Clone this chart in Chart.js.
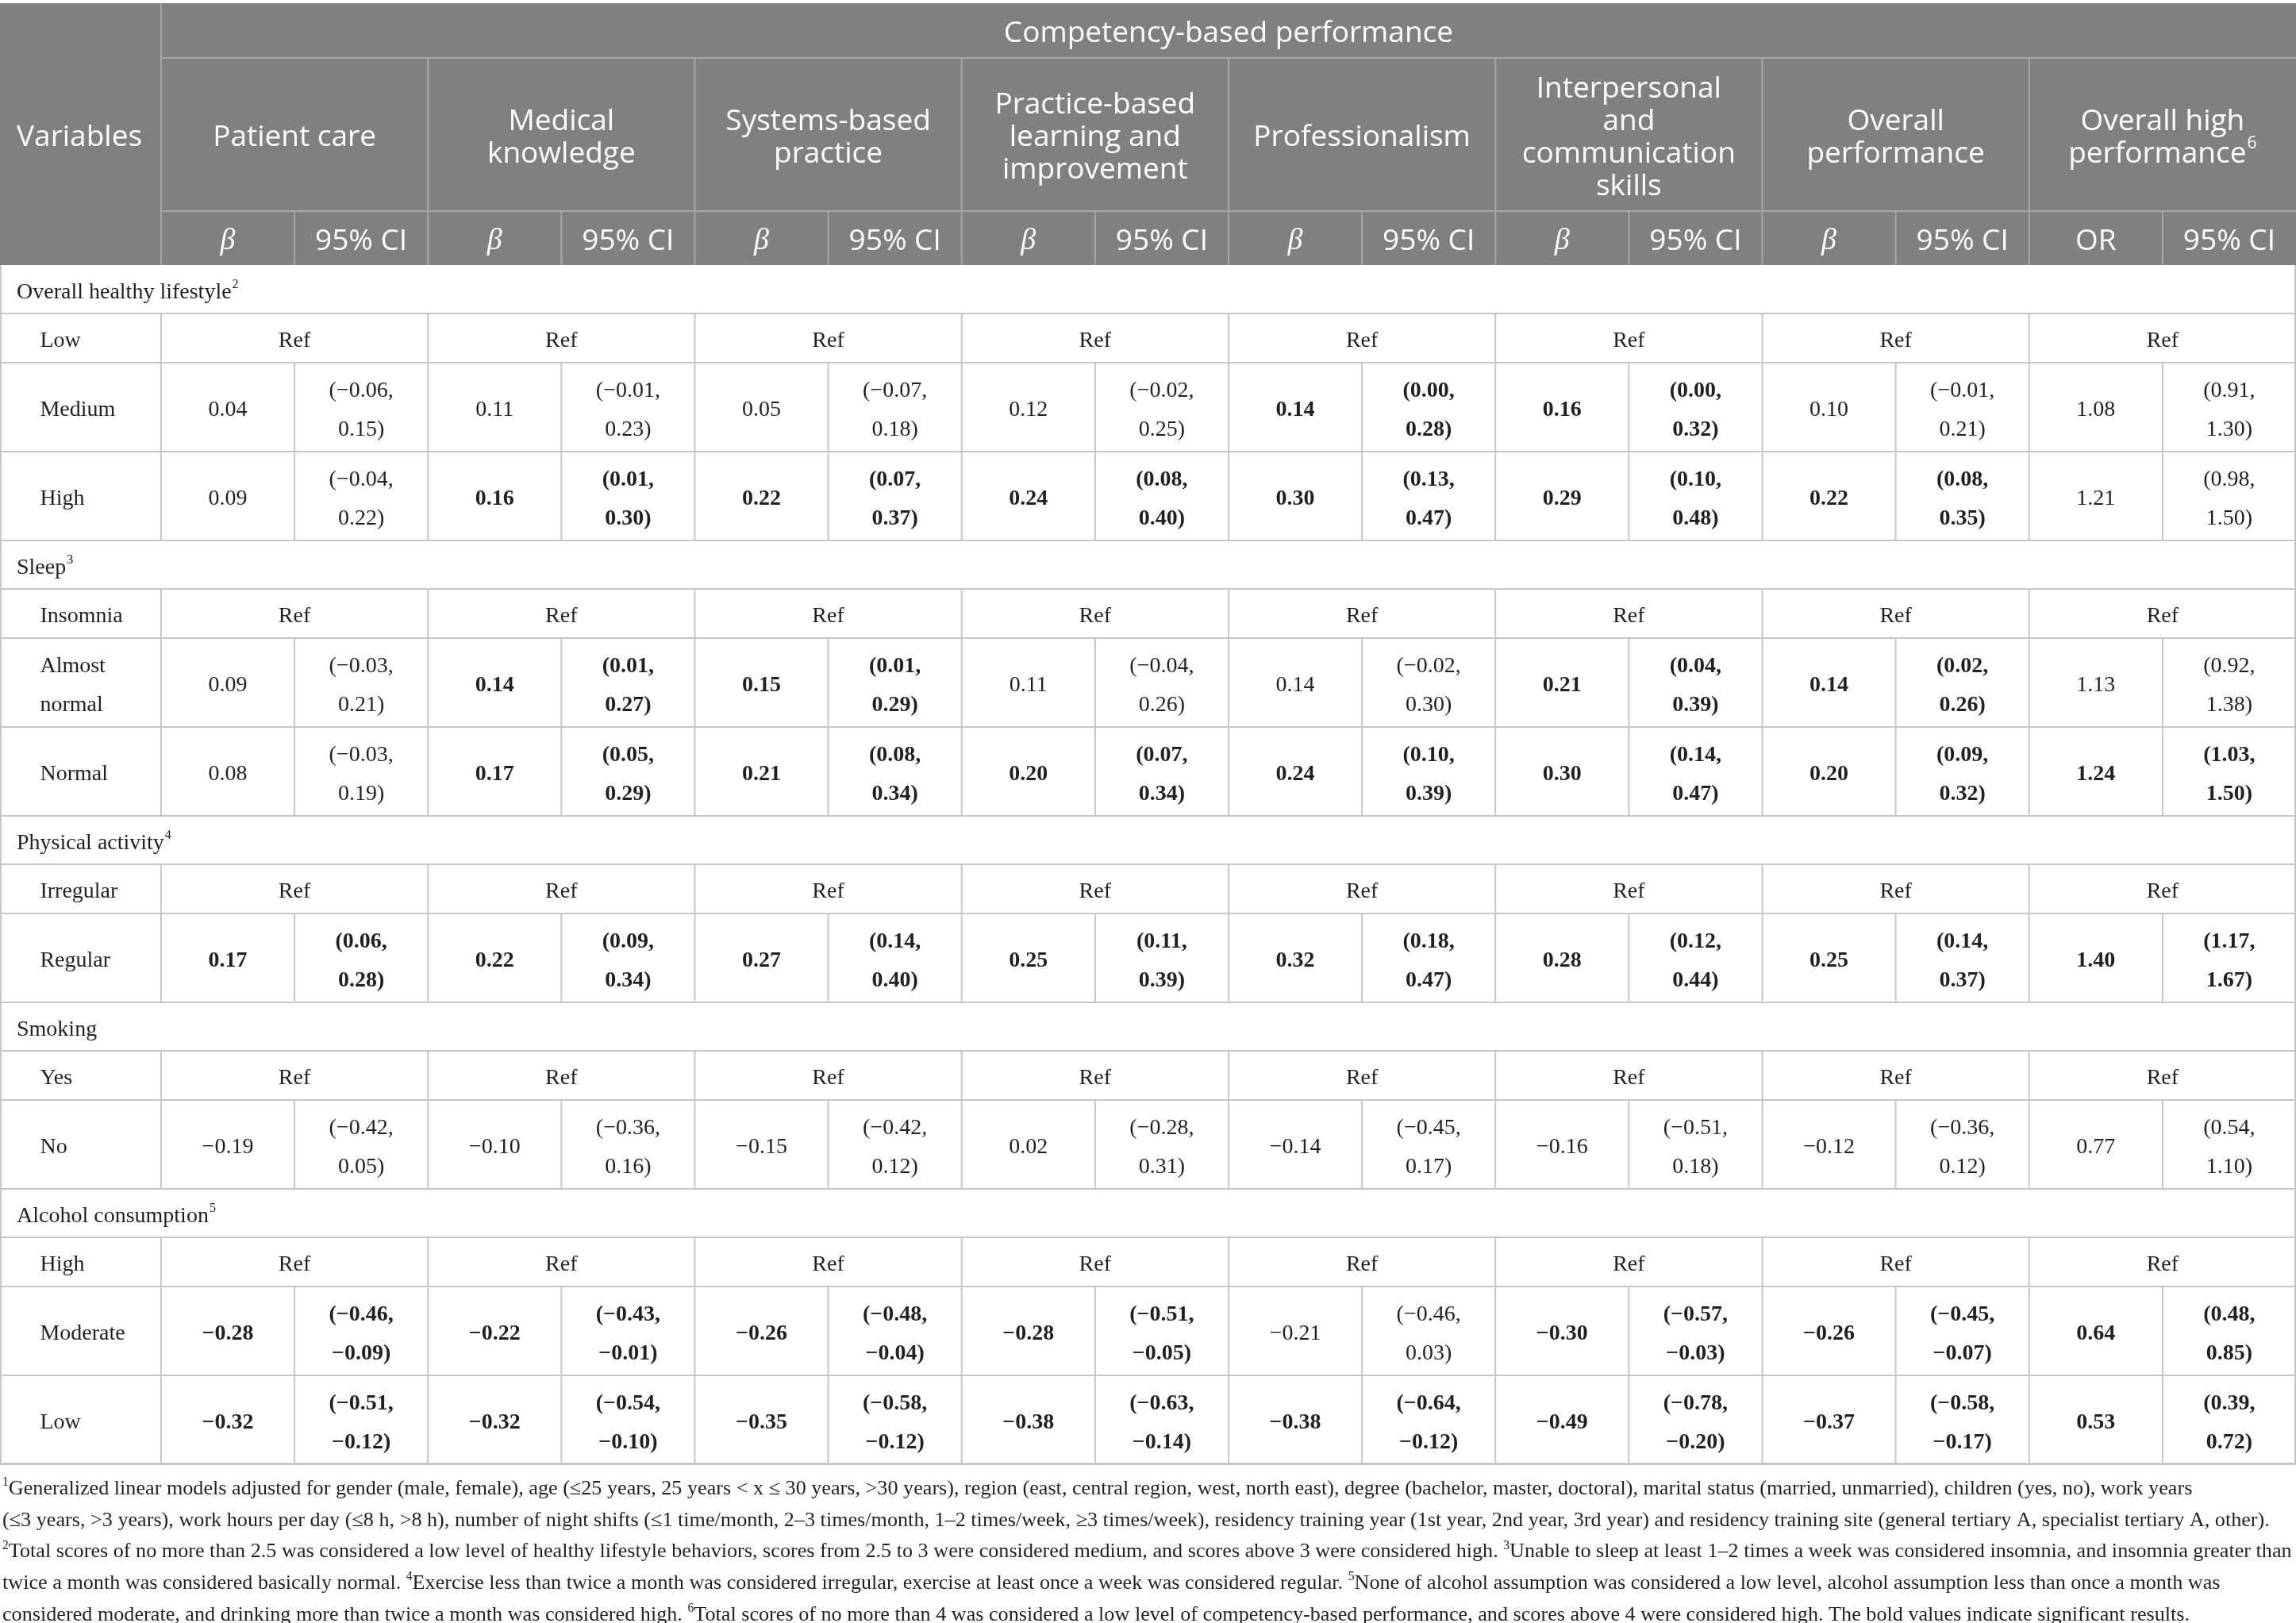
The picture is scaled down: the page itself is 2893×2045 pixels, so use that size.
<!DOCTYPE html>
<html>
<head>
<meta charset="utf-8">
<script src="https://cdn.jsdelivr.net/npm/chart.js@4.4.1/dist/chart.umd.min.js"></script>
<style>
  html, body { margin: 0; padding: 0; background: #fff; }
  #wrap { width: 2893px; height: 2045px; position: relative; }
</style>
</head>
<body>
<div id="wrap"><canvas id="tbl"></canvas></div>
<script>
// ---- data ----
const outcomes = [["Patient care"], ["Medical", "knowledge"], ["Systems-based", "practice"],
  ["Practice-based", "learning and", "improvement"], ["Professionalism"],
  ["Interpersonal", "and", "communication", "skills"], ["Overall", "performance"],
  ["Overall high", "performance"]];
const outcomeSup = ["", "", "", "", "", "", "", "6"];
const statHeads = ["β", "β", "β", "β", "β", "β", "β", "OR"];

const groups = ["Overall healthy lifestyle", "Sleep", "Physical activity", "Smoking", "Alcohol consumption"];
const groupSup = ["2", "3", "4", "", "5"];
const refLevels = ["Low", "Insomnia", "Irregular", "Yes", "High"];

// Overall healthy lifestyle
const medium_b = [0.04, 0.11, 0.05, 0.12, 0.14, 0.16, 0.10, 1.08];
const medium_lo = [-0.06, -0.01, -0.07, -0.02, 0.00, 0.00, -0.01, 0.91];
const medium_hi = [0.15, 0.23, 0.18, 0.25, 0.28, 0.32, 0.21, 1.30];
const medium_sig = [0, 0, 0, 0, 1, 1, 0, 0];
const high_b = [0.09, 0.16, 0.22, 0.24, 0.30, 0.29, 0.22, 1.21];
const high_lo = [-0.04, 0.01, 0.07, 0.08, 0.13, 0.10, 0.08, 0.98];
const high_hi = [0.22, 0.30, 0.37, 0.40, 0.47, 0.48, 0.35, 1.50];
const high_sig = [0, 1, 1, 1, 1, 1, 1, 0];
// Sleep
const almost_b = [0.09, 0.14, 0.15, 0.11, 0.14, 0.21, 0.14, 1.13];
const almost_lo = [-0.03, 0.01, 0.01, -0.04, -0.02, 0.04, 0.02, 0.92];
const almost_hi = [0.21, 0.27, 0.29, 0.26, 0.30, 0.39, 0.26, 1.38];
const almost_sig = [0, 1, 1, 0, 0, 1, 1, 0];
const normal_b = [0.08, 0.17, 0.21, 0.20, 0.24, 0.30, 0.20, 1.24];
const normal_lo = [-0.03, 0.05, 0.08, 0.07, 0.10, 0.14, 0.09, 1.03];
const normal_hi = [0.19, 0.29, 0.34, 0.34, 0.39, 0.47, 0.32, 1.50];
const normal_sig = [0, 1, 1, 1, 1, 1, 1, 1];
// Physical activity
const regular_b = [0.17, 0.22, 0.27, 0.25, 0.32, 0.28, 0.25, 1.40];
const regular_lo = [0.06, 0.09, 0.14, 0.11, 0.18, 0.12, 0.14, 1.17];
const regular_hi = [0.28, 0.34, 0.40, 0.39, 0.47, 0.44, 0.37, 1.67];
const regular_sig = [1, 1, 1, 1, 1, 1, 1, 1];
// Smoking
const nosmoke_b = [-0.19, -0.10, -0.15, 0.02, -0.14, -0.16, -0.12, 0.77];
const nosmoke_lo = [-0.42, -0.36, -0.42, -0.28, -0.45, -0.51, -0.36, 0.54];
const nosmoke_hi = [0.05, 0.16, 0.12, 0.31, 0.17, 0.18, 0.12, 1.10];
const nosmoke_sig = [0, 0, 0, 0, 0, 0, 0, 0];
// Alcohol consumption
const moderate_b = [-0.28, -0.22, -0.26, -0.28, -0.21, -0.30, -0.26, 0.64];
const moderate_lo = [-0.46, -0.43, -0.48, -0.51, -0.46, -0.57, -0.45, 0.48];
const moderate_hi = [-0.09, -0.01, -0.04, -0.05, 0.03, -0.03, -0.07, 0.85];
const moderate_sig = [1, 1, 1, 1, 0, 1, 1, 1];
const lowalc_b = [-0.32, -0.32, -0.35, -0.38, -0.38, -0.49, -0.37, 0.53];
const lowalc_lo = [-0.51, -0.54, -0.58, -0.63, -0.64, -0.78, -0.58, 0.39];
const lowalc_hi = [-0.12, -0.10, -0.12, -0.14, -0.12, -0.20, -0.17, 0.72];
const lowalc_sig = [1, 1, 1, 1, 1, 1, 1, 1];

const valueRows = [
  [[["Medium"], medium_b, medium_lo, medium_hi, medium_sig], [["High"], high_b, high_lo, high_hi, high_sig]],
  [[["Almost", "normal"], almost_b, almost_lo, almost_hi, almost_sig], [["Normal"], normal_b, normal_lo, normal_hi, normal_sig]],
  [[["Regular"], regular_b, regular_lo, regular_hi, regular_sig]],
  [[["No"], nosmoke_b, nosmoke_lo, nosmoke_hi, nosmoke_sig]],
  [[["Moderate"], moderate_b, moderate_lo, moderate_hi, moderate_sig], [["Low"], lowalc_b, lowalc_lo, lowalc_hi, lowalc_sig]]
];

const notes = [
  [["1", 1], ["Generalized linear models adjusted for gender (male, female), age (≤25 years, 25 years < x ≤ 30 years, >30 years), region (east, central region, west, north east), degree (bachelor, master, doctoral), marital status (married, unmarried), children (yes, no), work years", 0]],
  [["(≤3 years, >3 years), work hours per day (≤8 h, >8 h), number of night shifts (≤1 time/month, 2–3 times/month, 1–2 times/week, ≥3 times/week), residency training year (1st year, 2nd year, 3rd year) and residency training site (general tertiary A, specialist tertiary A, other).", 0]],
  [["2", 1], ["Total scores of no more than 2.5 was considered a low level of healthy lifestyle behaviors, scores from 2.5 to 3 were considered medium, and scores above 3 were considered high. ", 0], ["3", 1], ["Unable to sleep at least 1–2 times a week was considered insomnia, and insomnia greater than", 0]],
  [["twice a month was considered basically normal. ", 0], ["4", 1], ["Exercise less than twice a month was considered irregular, exercise at least once a week was considered regular. ", 0], ["5", 1], ["None of alcohol assumption was considered a low level, alcohol assumption less than once a month was", 0]],
  [["considered moderate, and drinking more than twice a month was considered high. ", 0], ["6", 1], ["Total scores of no more than 4 was considered a low level of competency-based performance, and scores above 4 were considered high. The bold values indicate significant results.", 0]]
];

// ---- layout / style ----
const VAR_W = 1.207;                 // first column width in sub-column units
const X_MAX = VAR_W + 16;
const HEAD_H = [69, 193, 68];
const SECTION_H = 61, REF_H = 62, VAL_H = 112;
const HEAD_BG = "#7f817f", HEAD_LINE = "#a6a8a6", BODY_LINE = "#c6c6c6";
const TXT = "#231f20";
const SANS = '"Open Sans", "Noto Sans", sans-serif';
const SERIF = '"Liberation Serif", "DejaVu Serif", serif';
const TEXT_DY = 4;

const fmt = v => (v < 0 ? "−" : "") + Math.abs(v).toFixed(2);

// build rows
const rows = [];
groups.forEach((g, gi) => {
  rows.push({ type: "section", label: g, sup: groupSup[gi], h: SECTION_H });
  rows.push({ type: "ref", label: [refLevels[gi]], h: REF_H });
  valueRows[gi].forEach(r => rows.push({ type: "val", label: r[0], b: r[1], lo: r[2], hi: r[3], sig: r[4], h: VAL_H }));
});
const headEnd = HEAD_H[0] + HEAD_H[1] + HEAD_H[2];
let acc = headEnd;
rows.forEach(r => { r.top = acc; acc += r.h; r.bot = acc; });
const Y_MAX = acc;

// cells as points
const headCells = [];
const bodyCells = [];
const hFont = "37px " + SANS;
headCells.push({ x: 0.125, y: headEnd / 2, text: ["Variables"], font: hFont, align: "left" });
headCells.push({ x: VAR_W + 8, y: HEAD_H[0] / 2, text: ["Competency-based performance"], font: hFont, align: "center" });
outcomes.forEach((o, k) => {
  headCells.push({ x: VAR_W + 2 * k + 1, y: HEAD_H[0] + HEAD_H[1] / 2, text: o, sup: outcomeSup[k], font: hFont, align: "center", gap: 41 });
  const ys = HEAD_H[0] + HEAD_H[1] + HEAD_H[2] / 2;
  const st = statHeads[k];
  headCells.push({ x: VAR_W + 2 * k + 0.5, y: ys, text: [st], font: st === "β" ? "italic 38px " + SERIF : hFont, align: "center" });
  headCells.push({ x: VAR_W + 2 * k + 1.5, y: ys, text: ["95% CI"], font: hFont, align: "center" });
});

const bFont = "28px " + SERIF, bBold = "bold 28px " + SERIF;
rows.forEach(r => {
  const cy = (r.top + r.bot) / 2;
  if (r.type === "section") {
    bodyCells.push({ x: 0.125, y: cy, text: [r.label], sup: r.sup, font: bFont, align: "left" });
  } else if (r.type === "ref") {
    bodyCells.push({ x: 0.3, y: cy, text: r.label, font: bFont, align: "left" });
    for (let k = 0; k < 8; k++) bodyCells.push({ x: VAR_W + 2 * k + 1, y: cy, text: ["Ref"], font: bFont, align: "center" });
  } else {
    bodyCells.push({ x: 0.3, y: cy, text: r.label, font: bFont, align: "left", gap: 49 });
    for (let k = 0; k < 8; k++) {
      const f = r.sig[k] ? bBold : bFont;
      bodyCells.push({ x: VAR_W + 2 * k + 0.5, y: cy, text: [fmt(r.b[k])], font: f, align: "center" });
      bodyCells.push({ x: VAR_W + 2 * k + 1.5, y: cy, text: ["(" + fmt(r.lo[k]) + ",", fmt(r.hi[k]) + ")"], font: f, align: "center", gap: 49 });
    }
  }
});

function drawText(ctx, d, px, py) {
  const lines = d.text;
  const gap = d.gap || 40;
  ctx.textBaseline = "middle";
  ctx.textAlign = "left";
  lines.forEach((ln, i) => {
    const yy = py + TEXT_DY + (i - (lines.length - 1) / 2) * gap;
    ctx.font = d.font;
    const w = ctx.measureText(ln).width;
    const sup = (i === lines.length - 1 && d.sup) ? d.sup : "";
    const supFont = d.font.replace(/\d+px/, m => Math.round(parseInt(m) * 0.58) + "px");
    let ws = 0;
    if (sup) { ctx.font = supFont; ws = ctx.measureText(sup).width + 1; }
    const x0 = d.align === "center" ? px - (w + ws) / 2 : px;
    ctx.font = d.font;
    ctx.fillText(ln, x0, yy);
    if (sup) {
      ctx.font = supFont;
      ctx.fillText(sup, x0 + w + 1, yy - parseInt(d.font.match(/\d+px/)[0]) * 0.36);
    }
  });
}

const tablePlugin = {
  id: "tablePlugin",
  beforeDatasetsDraw(chart) {
    const { ctx, scales: { x, y } } = chart;
    const X = v => x.getPixelForValue(v), Y = v => y.getPixelForValue(v);
    ctx.save();
    ctx.fillStyle = HEAD_BG;
    ctx.fillRect(X(0), Y(0), X(X_MAX) - X(0), Y(headEnd) - Y(0));
    // header rules
    ctx.strokeStyle = HEAD_LINE;
    ctx.lineWidth = 2;
    const line = (x1, y1, x2, y2) => { ctx.beginPath(); ctx.moveTo(x1, y1); ctx.lineTo(x2, y2); ctx.stroke(); };
    const r1 = HEAD_H[0], r2 = HEAD_H[0] + HEAD_H[1];
    line(X(VAR_W), Y(0), X(VAR_W), Y(headEnd));
    line(X(VAR_W), Y(r1), X(X_MAX), Y(r1));
    line(X(VAR_W), Y(r2), X(X_MAX), Y(r2));
    for (let k = 1; k < 8; k++) line(X(VAR_W + 2 * k), Y(r1), X(VAR_W + 2 * k), Y(headEnd));
    for (let k = 0; k < 8; k++) line(X(VAR_W + 2 * k + 1), Y(r2), X(VAR_W + 2 * k + 1), Y(headEnd));
    // body rules
    ctx.strokeStyle = BODY_LINE;
    rows.forEach(r => {
      line(X(0) + 1, Y(r.top), X(0) + 1, Y(r.bot));
      line(X(X_MAX) - 1, Y(r.top), X(X_MAX) - 1, Y(r.bot));
      line(X(0), Y(r.bot), X(X_MAX), Y(r.bot));
      if (r.type !== "section") {
        line(X(VAR_W), Y(r.top), X(VAR_W), Y(r.bot));
        for (let k = 1; k < 8; k++) line(X(VAR_W + 2 * k), Y(r.top), X(VAR_W + 2 * k), Y(r.bot));
      }
      if (r.type === "val") {
        for (let k = 0; k < 8; k++) line(X(VAR_W + 2 * k + 1), Y(r.top), X(VAR_W + 2 * k + 1), Y(r.bot));
      }
    });
    ctx.lineWidth = 3;
    line(X(0), Y(Y_MAX) - 0.5, X(X_MAX), Y(Y_MAX) - 0.5);
    ctx.restore();
  },
  afterDatasetsDraw(chart) {
    const ctx = chart.ctx;
    ctx.save();
    chart.data.datasets.forEach((ds, di) => {
      const meta = chart.getDatasetMeta(di);
      ctx.fillStyle = ds.textColor;
      meta.data.forEach((el, i) => drawText(ctx, ds.data[i], el.x, el.y));
    });
    // footnotes
    const top = chart.chartArea.bottom;
    ctx.font = "100px " + SERIF;
    const wRef = ctx.measureText(notes[1][0][0]).width;
    const fs = 100 * 2858 / wRef;
    ctx.fillStyle = TXT;
    ctx.textBaseline = "middle";
    ctx.textAlign = "left";
    notes.forEach((segs, li) => {
      let xx = 3;
      const yy = top + 31 + li * 39.7;
      segs.forEach(([t, sup]) => {
        ctx.font = (sup ? fs * 0.6 : fs) + "px " + SERIF;
        ctx.fillText(t, xx, sup ? yy - fs * 0.3 : yy);
        xx += ctx.measureText(t).width;
      });
    });
    ctx.restore();
  }
};

new Chart(document.getElementById("tbl"), {
  type: "scatter",
  data: {
    datasets: [
      { label: "header", data: headCells, textColor: "#ffffff", pointRadius: 0 },
      { label: "body", data: bodyCells, textColor: TXT, pointRadius: 0 }
    ]
  },
  options: {
    responsive: true,
    maintainAspectRatio: false,
    animation: false,
    events: [],
    layout: { padding: { left: 0, right: 0, top: 4, bottom: 2045 - 4 - Y_MAX } },
    scales: {
      x: { type: "linear", min: 0, max: X_MAX, display: false },
      y: { type: "linear", min: 0, max: Y_MAX, reverse: true, display: false }
    },
    plugins: { legend: { display: false }, tooltip: { enabled: false } }
  },
  plugins: [tablePlugin]
});
</script>
</body>
</html>
